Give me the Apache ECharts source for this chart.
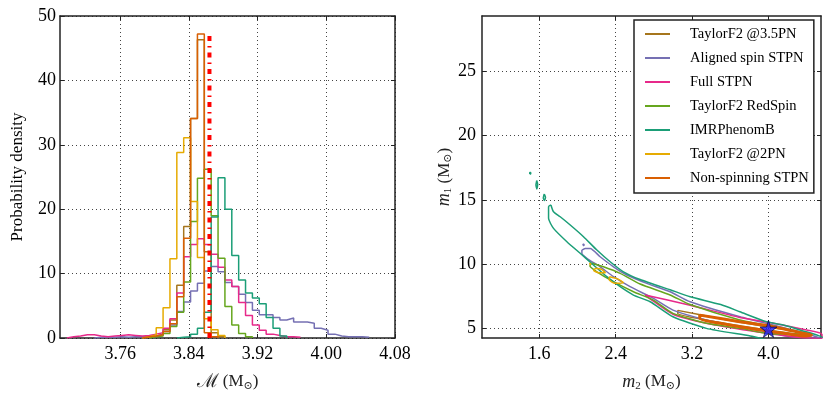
<!DOCTYPE html>
<html>
<head>
<meta charset="utf-8">
<script src="https://cdn.jsdelivr.net/npm/echarts@6/dist/echarts.min.js"></script>
<style>
  html, body { margin: 0; padding: 0; background: #fff; }
  #chart { width: 830px; height: 397px; }
</style>
</head>
<body>
<div id="chart"></div>
<script>
// chirp mass histogram bins
const binStart = 3.69
const binWidth = 0.008

const names = ['TaylorF2 @3.5PN', 'Aligned spin STPN', 'Full STPN', 'TaylorF2 RedSpin', 'IMRPhenomB', 'TaylorF2 @2PN', 'Non-spinning STPN']
const colors = ['#a6761d', '#7570b3', '#e7298a', '#66a61e', '#1b9e77', '#e6ab02', '#d95f02']

// probability density per bin (bin 0 starts at binStart)
const histTaylor35 = [0,0,0,0,0,0,0,0,0,0,0,0, 0.2,0.3,0.6,1.3,2.8,8.2,17.3,34.1,46.3,13.4,0.8,0.2]
const histAligned = [0,0,0,0,0, 0.1,0.1,0.1,0.2,0.1,0.2,0.2,0.2, 0.3,0.5,1.0,2.0,4.1,5.6,7.3,8.5,10.4,11.1,10.3,8.6,8.0,6.8,5.5,4.3,3.6,3.6,3.2,2.8,3.1,2.5,2.5,2.3,1.5,1.2,0.6,0.3,0.2,0.2,0.2,0.1]
const histFull = [0, 0.2,0.3,0.5,0.5,0.3,0.2,0.3,0.4,0.5,0.4,0.3,0.4,0.6, 0.8,1.5,3.0,7.0,12.6,14.5,15.4,14.5,13.0,11.0,9.0,8.0,5.5,3.5,2.0,1.2,0.6,0.4,0.2,0.2,0.1]
const histRedSpin = [0,0,0,0,0,0,0,0,0,0,0,0,0, 0.2,0.3,0.7,1.8,4.0,8.7,18.1,24.8,26.2,19.0,12.4,4.9,2.0,0.7,0.2]
const histIMR = [0,0,0,0,0,0,0,0,0,0,0,0,0,0,0,0,0, 0.1,0.2,0.6,1.5,4.0,18.8,24.9,20.0,12.8,9.0,7.0,6.2,5.3,3.2,1.5,0.3]
const histTaylor2 = [0,0,0,0,0,0,0,0,0,0,0,0, 0.2,0.5,1.6,4.7,12.3,28.8,31.1,21.2,12.5,3.0,1.3,0.4]
const histNonSpin = [0,0,0,0,0,0,0,0,0,0,0,0, 0.2,0.3,0.5,1.0,2.2,6.4,15.5,34.1,47.2,0.8,0.2]
const hists = [histTaylor35, histAligned, histFull, histRedSpin, histIMR, histTaylor2, histNonSpin]

// injected chirp mass
const trueChirp = 3.864
const trueLineTop = 47.5

// contours in (m2, m1)
const contTaylor35 = [[3.05,6.4],[3.5,5.75],[4.0,5.1],[4.45,4.5],[4.45,4.4],[4.0,4.85],[3.5,5.45],[3.05,6.15],[3.05,6.4]]
const contAligned = [[2.046,11.09],[2.08,11.22],[2.133,11.22],[2.237,10.57],[2.377,9.79],[2.517,9.15],[2.726,8.5],[2.97,7.85],[3.179,7.07],[3.702,5.9],[4.05,5.26],[4.33,4.74],[4.5,4.35],[4.56,4.2],[4.19,4.4],[3.98,4.74],[3.7,5.12],[3.35,5.65],[3.0,6.42],[2.795,7.33],[2.551,8.24],[2.377,9.02],[2.237,9.79],[2.098,10.45],[2.046,10.84],[2.046,11.09]]
const contAlignedDot = [[2.058,11.45],[2.068,11.45],[2.068,11.55],[2.058,11.55],[2.058,11.45]]
const contFull = [[2.708,7.59],[3.18,6.8],[3.7,5.85],[4.05,5.4],[4.4,4.87],[4.56,4.55],[4.56,4.2],[4.3,4.3],[3.81,4.81],[3.35,5.4],[3.0,6.1],[2.76,7.3],[2.708,7.59]]
const contRedSpin = [[2.15,10.06],[2.272,9.79],[2.447,9.28],[2.656,8.45],[2.97,7.6],[3.179,6.85],[3.7,5.65],[4.05,5.13],[4.3,4.74],[4.4,4.6],[4.05,4.56],[3.7,5.0],[3.35,5.39],[3.0,6.17],[2.795,7.2],[2.586,7.85],[2.377,8.63],[2.203,9.4],[2.13,9.85],[2.15,10.06]]
const contIMR = [[1.722,14.6],[1.749,14.07],[1.819,13.68],[1.924,13.04],[2.063,12.13],[2.203,11.09],[2.342,10.18],[2.481,9.4],[2.656,8.8],[2.97,8.0],[3.18,7.46],[3.5,6.85],[3.7,6.29],[3.98,5.51],[4.155,5.26],[4.33,4.87],[4.6,4.15],[4.6,3.8],[4.2,3.8],[3.81,4.4],[3.35,5.0],[3.0,5.9],[2.761,7.07],[2.586,7.59],[2.447,8.24],[2.307,9.02],[2.167,9.93],[2.028,10.84],[1.889,11.74],[1.749,12.78],[1.697,13.56],[1.697,14.46],[1.722,14.6]]
const contIMRIsle1 = [[1.500,17.0],[1.510,17.0],[1.510,17.12],[1.500,17.12],[1.500,17.0]]
const contIMRIsle2 = [[1.573,16.5],[1.583,16.2],[1.575,15.85],[1.565,16.15],[1.573,16.5]]
const contIMRIsle3 = [[1.652,15.45],[1.665,15.2],[1.655,14.95],[1.642,15.15],[1.652,15.45]]
const contTaylor2a = [[2.188,9.67],[2.25,9.6],[2.293,9.32],[2.22,9.33],[2.17,9.5],[2.188,9.67]]
const contTaylor2b = [[2.335,9.02],[2.42,8.85],[2.481,8.55],[2.394,8.5],[2.33,8.8],[2.335,9.02]]
const contTaylor2c = [[2.128,9.97],[2.138,9.97],[2.138,10.05],[2.128,10.05],[2.128,9.97]]
const contNonSpin = [[3.28,6.03],[3.7,5.52],[4.05,5.13],[4.4,4.56],[4.45,4.48],[4.4,4.4],[4.05,4.74],[3.7,5.13],[3.28,5.78],[3.28,6.03]]
const contours = [
  [contTaylor35],
  [contAligned, contAlignedDot],
  [contFull],
  [contRedSpin],
  [contIMR, contIMRIsle1, contIMRIsle2, contIMRIsle3],
  [contTaylor2a, contTaylor2b, contTaylor2c],
  [contNonSpin]
]

// injected masses (m2, m1)
const truePoint = [4.0, 4.95]

// axis ticks
const chirpTicks = [3.76, 3.84, 3.92, 4.00, 4.08]
const m2Ticks = [1.6, 2.4, 3.2, 4.0]
const m1Ticks = [5, 10, 15, 20, 25]

const serif = "'Liberation Serif', 'DejaVu Serif', serif"
const frame = '#222'

function histPoints (h) {
  const first = h.findIndex(v => v > 0)
  const pts = [[binStart + first * binWidth, 0]]
  for (let k = first; k < h.length; k++) {
    pts.push([binStart + k * binWidth, h[k]])
  }
  pts.push([binStart + h.length * binWidth, 0])
  return pts
}

function gridLine () {
  return { show: true, lineStyle: { color: '#444', type: [1, 3], width: 1 } }
}

function xAxisCfg (grid, pos, min, max, ticks, labelled, fmt) {
  return {
    type: 'value', gridIndex: grid, position: pos, min: min, max: max,
    axisLine: { show: true, onZero: false, lineStyle: { color: frame, width: 1.5 } },
    axisTick: { show: true, inside: true, length: 4, customValues: ticks, lineStyle: { color: frame } },
    axisLabel: { show: labelled, customValues: ticks, margin: 7, fontFamily: serif, fontSize: 18, color: '#000', formatter: fmt },
    splitLine: labelled ? gridLine() : { show: false }
  }
}

function yAxisCfg (grid, pos, min, max, ticks, labelled, margin) {
  const cfg = {
    type: 'value', gridIndex: grid, position: pos, min: min, max: max,
    axisLine: { show: true, onZero: false, lineStyle: { color: frame, width: 1.5 } },
    axisTick: { show: true, inside: true, length: 4, lineStyle: { color: frame } },
    axisLabel: { show: labelled, margin: margin, fontFamily: serif, fontSize: 18, color: '#000' },
    splitLine: labelled ? gridLine() : { show: false }
  }
  if (ticks) {
    cfg.axisTick.customValues = ticks
    cfg.axisLabel.customValues = ticks
  } else {
    cfg.interval = 10
  }
  return cfg
}

const nameRich = {
  s: { fontFamily: serif, fontSize: 19 },
  i: { fontFamily: serif, fontSize: 18, fontStyle: 'italic' },
  t: { fontFamily: serif, fontSize: 17 },
  sub: { fontFamily: serif, fontSize: 11, padding: [9, 0, 0, 0] }
}

const xAxes = [
  xAxisCfg(0, 'bottom', 3.69, 4.08, chirpTicks, true, v => v.toFixed(2)),
  xAxisCfg(0, 'top', 3.69, 4.08, chirpTicks, false),
  xAxisCfg(1, 'bottom', 1.0, 4.55, m2Ticks, true, v => v.toFixed(1)),
  xAxisCfg(1, 'top', 1.0, 4.55, m2Ticks, false)
]
Object.assign(xAxes[0], {
  name: '{s|ℳ}{t| (M}{sub|⊙}{t|)}', nameLocation: 'middle', nameGap: 34,
  nameTextStyle: { rich: nameRich }
})
Object.assign(xAxes[2], {
  name: '{i|m}{sub|2}{t| (M}{sub|⊙}{t|)}', nameLocation: 'middle', nameGap: 34,
  nameTextStyle: { rich: nameRich }
})

const yAxes = [
  yAxisCfg(0, 'left', 0, 50, null, true, 4),
  yAxisCfg(0, 'right', 0, 50, null, false, 4),
  yAxisCfg(1, 'left', 4.25, 29.3, m1Ticks, true, 6),
  yAxisCfg(1, 'right', 4.25, 29.3, m1Ticks, false, 6)
]
Object.assign(yAxes[0], {
  name: 'Probability density', nameLocation: 'middle', nameGap: 34,
  nameTextStyle: { fontFamily: serif, fontSize: 17, color: '#000' }
})
Object.assign(yAxes[2], {
  name: '{i|m}{sub|1}{t| (M}{sub|⊙}{t|)}', nameLocation: 'middle', nameGap: 26,
  nameTextStyle: { rich: nameRich }
})

const series = []
hists.forEach((h, i) => {
  series.push({
    name: names[i], type: 'line', step: 'end', xAxisIndex: 0, yAxisIndex: 0,
    data: histPoints(h), symbol: 'none', color: colors[i],
    lineStyle: { width: 1.5, color: colors[i] }
  })
})
series.push({
  type: 'line', xAxisIndex: 0, yAxisIndex: 0, symbol: 'none',
  data: [[trueChirp, 0], [trueChirp, trueLineTop]],
  lineStyle: { color: '#ff0000', width: 4, type: [5, 5, 1.5, 5] }
})
contours.forEach((parts, i) => {
  parts.forEach(part => {
    series.push({
      name: names[i], type: 'line', xAxisIndex: 2, yAxisIndex: 2,
      data: part, symbol: 'none', smooth: 0.2, color: colors[i],
      lineStyle: { width: names[i] === 'Non-spinning STPN' ? 3 : 1.5, color: colors[i] }
    })
  })
})
series.push({
  type: 'scatter', xAxisIndex: 2, yAxisIndex: 2, data: [truePoint],
  symbol: 'path://M50,0 L61,35 L98,35 L68,57 L79,91 L50,70 L21,91 L32,57 L2,35 L39,35 Z',
  symbolSize: 17, itemStyle: { color: '#1a1aff', borderColor: '#000033', borderWidth: 0.8 }, z: 10
})

const chart = echarts.init(document.getElementById('chart'))
chart.setOption({
  animation: false,
  backgroundColor: '#fff',
  grid: [
    { left: 60, top: 16, width: 335, height: 322 },
    { left: 482, top: 16, width: 339, height: 322 }
  ],
  legend: {
    data: names, orient: 'vertical', left: 634, top: 20,
    padding: [2, 5, 3, 11], itemGap: 0, itemWidth: 25, itemHeight: 2,
    icon: 'rect', borderColor: frame, borderWidth: 1.5, borderRadius: 0, backgroundColor: '#fff',
    textStyle: { fontFamily: serif, fontSize: 14.5, color: '#000', lineHeight: 24, padding: [0, 0, 0, 15] }
  },
  xAxis: xAxes,
  yAxis: yAxes,
  series: series
})
</script>
</body>
</html>
